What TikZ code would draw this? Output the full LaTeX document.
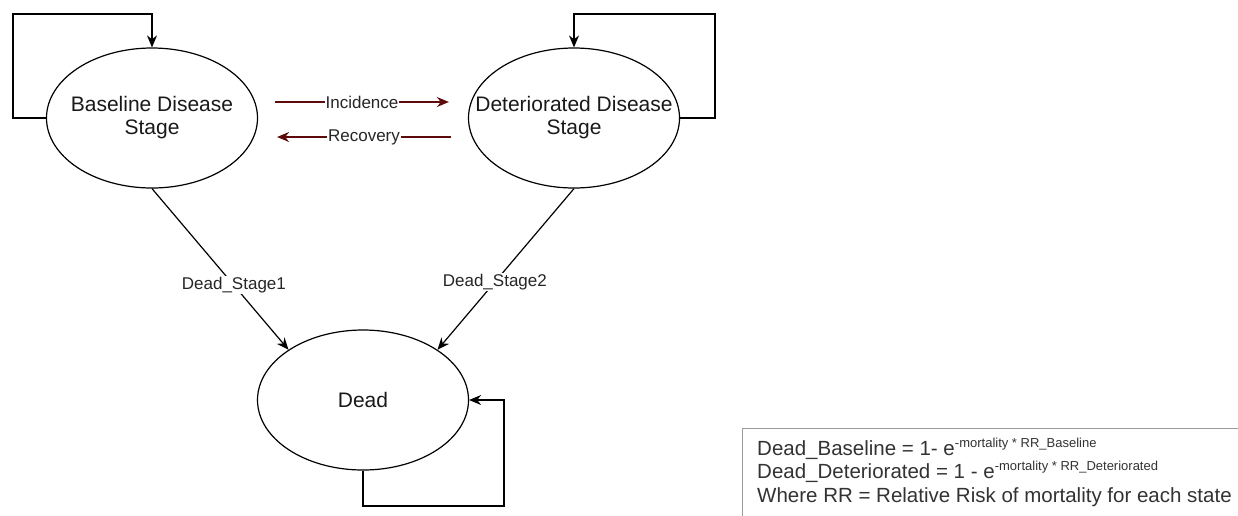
\documentclass[tikz,border=0pt]{standalone}
\usepackage{fontspec}
\setmainfont{Liberation Sans}
\usetikzlibrary{shapes.geometric,arrows.meta}
\definecolor{flowred}{HTML}{5C0A0A}
\definecolor{boxgray}{HTML}{9A9A9A}
\newcommand{\supsm}[1]{\raisebox{7.5pt}{\fontsize{13}{13}\selectfont #1}}
\begin{document}
\begin{tikzpicture}[x=1pt,y=-1pt]
        \tikzstyle{statebox}=[ellipse,draw=black,line width=1.2pt,inner xsep=-30pt,inner ysep=0pt,minimum width=211pt,minimum height=140pt,align=center,font=\fontsize{21}{23}\selectfont,text=black!90]
        \tikzstyle{flow}=[line width=1.2pt,-{Stealth[length=12pt,width=10pt]}]
        \tikzstyle{flowlabel}=[fill=white,inner sep=1pt,font=\fontsize{17}{19}\selectfont,text=black!85]
        \tikzstyle{formula}=[anchor=base west,inner sep=0pt,font=\fontsize{20.5}{23}\selectfont,text=black!80]

        \clip (0,0) rectangle (1238,515);
        \useasboundingbox (0,0) rectangle (1238,515);

        \node (base)[statebox] at (152,118) {Baseline Disease\\Stage};
        \node (det)[statebox] at (574,118) {Deteriorated Disease\\Stage};
        \node (dead)[statebox] at (363,400) {Dead};

        \coordinate (baseloop) at (13,14);
        \coordinate (detloop) at (715,14);
        \coordinate (deadloop) at (504,506);

        \draw[flow] (base.west) -| (baseloop) -| (base.north);
        \draw[flow] (det.east) -| (detloop) -| (det.north);
        \draw[flow] (dead.south) |- (deadloop) |- (dead.east);

        \draw[flow, draw=flowred, fill=flowred] ([xshift=17pt,yshift=16pt]base.east) -- ([xshift=-19pt,yshift=16pt]det.west) node[flowlabel, midway]{Incidence};
        \draw[flow, draw=flowred, fill=flowred] ([xshift=-17pt,yshift=-19pt]det.west) -- ([xshift=19pt,yshift=-19pt]base.east) node[flowlabel, midway]{Recovery};

        \draw[flow] (base.south) -- (dead.146) node[flowlabel, pos=0.6]{Dead\_Stage1};
        \draw[flow] (det.south) -- (dead.34) node[flowlabel, pos=0.58]{Dead\_Stage2};

        \draw[draw=boxgray, fill=white, line width=1pt] (742,428) rectangle (1250,530);
        \node (f1)[formula] at (757,455) {Dead\_Baseline = 1- e\supsm{-mortality * RR\_Baseline}};
        \node (f2)[formula] at (757,478) {Dead\_Deteriorated = 1 - e\supsm{-mortality * RR\_Deteriorated}};
        \node (f3)[formula] at (757,502) {Where RR = Relative Risk of mortality for each state};
    \end{tikzpicture}
\end{document}
